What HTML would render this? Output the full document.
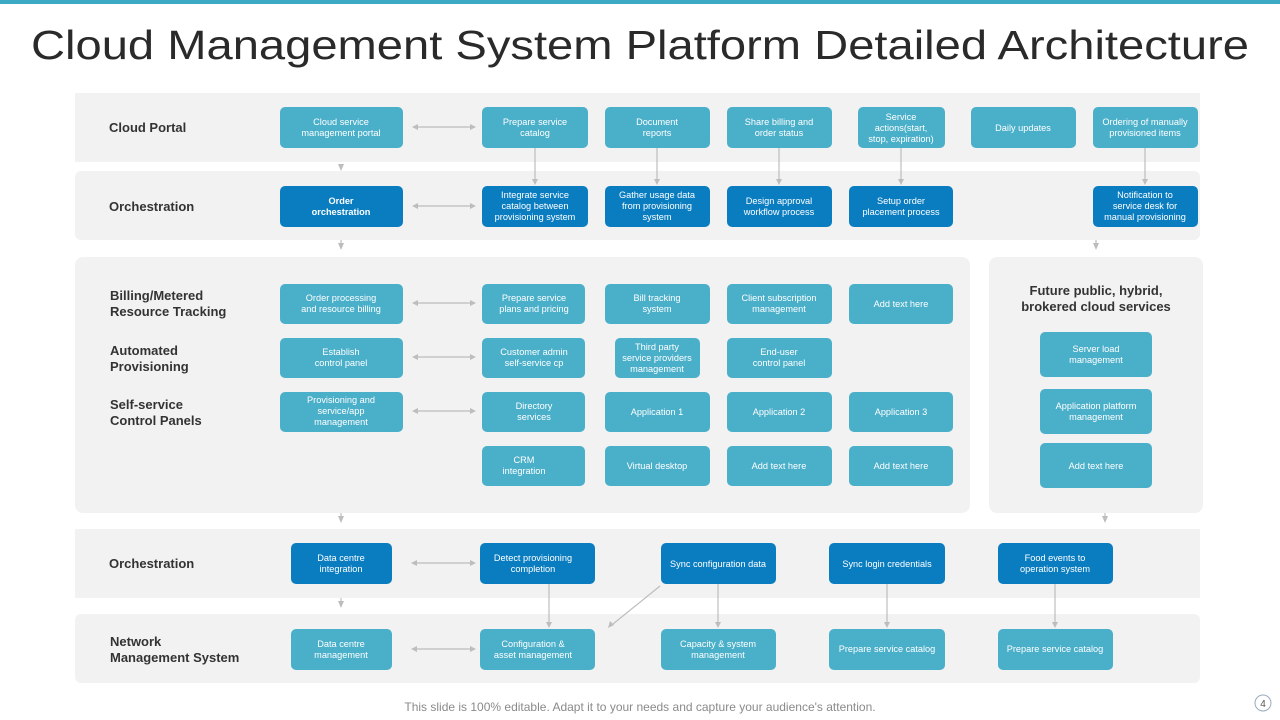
<!DOCTYPE html>
<html><head><meta charset="utf-8"><style>
html,body{margin:0;padding:0;background:#fff;}
svg{display:block;font-family:"Liberation Sans",Arial,sans-serif;}
.l{fill:#4aafc9}.d{fill:#0a7dc0}
.t{fill:#fff;font-size:9.2px;text-anchor:middle}
.lab{fill:#333;font-size:13px;font-weight:bold}
.ar{stroke:#bdbdbd;stroke-width:1.2;fill:none}
.ah{fill:#bdbdbd}
</style></head><body>
<svg width="1280" height="720" viewBox="0 0 1280 720" xmlns="http://www.w3.org/2000/svg">
<rect x="0" y="0" width="1280" height="4" fill="#3ea9c4"/>
<text x="640" y="59" text-anchor="middle" font-size="41" fill="#2a2a2a" textLength="1218" lengthAdjust="spacingAndGlyphs">Cloud Management System Platform Detailed Architecture</text>

<rect x="75" y="93" width="1125" height="69" fill="#f2f2f2"/>
<rect x="75" y="171" width="1125" height="69" rx="6" fill="#f2f2f2"/>
<rect x="75" y="257" width="895" height="256" rx="8" fill="#f2f2f2"/>
<rect x="989" y="257" width="214" height="256" rx="8" fill="#f2f2f2"/>
<rect x="75" y="529" width="1125" height="69" fill="#f2f2f2"/>
<rect x="75" y="614" width="1125" height="69" rx="6" fill="#f2f2f2"/>

<text class="lab" x="109" y="132">Cloud Portal</text>
<text class="lab" x="109" y="211">Orchestration</text>
<text class="lab" x="110" y="300">Billing/Metered</text><text class="lab" x="110" y="316">Resource Tracking</text>
<text class="lab" x="110" y="355">Automated</text><text class="lab" x="110" y="371">Provisioning</text>
<text class="lab" x="110" y="409">Self-service</text><text class="lab" x="110" y="425">Control Panels</text>
<text class="lab" x="109" y="568">Orchestration</text>
<text class="lab" x="110" y="646">Network</text><text class="lab" x="110" y="662">Management System</text>
<text class="lab" x="1096" y="295" text-anchor="middle">Future public, hybrid,</text>
<text class="lab" x="1096" y="311" text-anchor="middle">brokered cloud services</text>

<rect class="l" x="280" y="107" width="123" height="41" rx="5"/><text class="t" x="341" y="125">Cloud service</text><text class="t" x="341" y="136">management portal</text>
<rect class="l" x="482" y="107" width="106" height="41" rx="5"/><text class="t" x="535" y="125">Prepare service</text><text class="t" x="535" y="136">catalog</text>
<rect class="l" x="605" y="107" width="105" height="41" rx="5"/><text class="t" x="657" y="125">Document</text><text class="t" x="657" y="136">reports</text>
<rect class="l" x="727" y="107" width="105" height="41" rx="5"/><text class="t" x="779" y="125">Share billing and</text><text class="t" x="779" y="136">order status</text>
<rect class="l" x="858" y="107" width="87" height="41" rx="5"/><text class="t" x="901" y="120">Service</text><text class="t" x="901" y="131">actions(start,</text><text class="t" x="901" y="142">stop, expiration)</text>
<rect class="l" x="971" y="107" width="105" height="41" rx="5"/><text class="t" x="1023" y="131">Daily updates</text>
<rect class="l" x="1093" y="107" width="105" height="41" rx="5"/><text class="t" x="1145" y="125">Ordering of manually</text><text class="t" x="1145" y="136">provisioned items</text>

<rect class="d" x="280" y="186" width="123" height="41" rx="5"/><text class="t" x="341" y="204" font-weight="bold">Order</text><text class="t" x="341" y="215" font-weight="bold">orchestration</text>
<rect class="d" x="482" y="186" width="106" height="41" rx="5"/><text class="t" x="535" y="198">Integrate service</text><text class="t" x="535" y="209">catalog between</text><text class="t" x="535" y="220">provisioning system</text>
<rect class="d" x="605" y="186" width="105" height="41" rx="5"/><text class="t" x="657" y="198">Gather usage data</text><text class="t" x="657" y="209">from provisioning</text><text class="t" x="657" y="220">system</text>
<rect class="d" x="727" y="186" width="105" height="41" rx="5"/><text class="t" x="779" y="204">Design approval</text><text class="t" x="779" y="215">workflow process</text>
<rect class="d" x="849" y="186" width="104" height="41" rx="5"/><text class="t" x="901" y="204">Setup order</text><text class="t" x="901" y="215">placement process</text>
<rect class="d" x="1093" y="186" width="105" height="41" rx="5"/><text class="t" x="1145" y="198">Notification to</text><text class="t" x="1145" y="209">service desk for</text><text class="t" x="1145" y="220">manual provisioning</text>

<rect class="l" x="280" y="284" width="123" height="40" rx="5"/><text class="t" x="341" y="301">Order processing</text><text class="t" x="341" y="312">and resource billing</text>
<rect class="l" x="482" y="284" width="103" height="40" rx="5"/><text class="t" x="534" y="301">Prepare service</text><text class="t" x="534" y="312">plans and pricing</text>
<rect class="l" x="605" y="284" width="105" height="40" rx="5"/><text class="t" x="657" y="301">Bill tracking</text><text class="t" x="657" y="312">system</text>
<rect class="l" x="727" y="284" width="105" height="40" rx="5"/><text class="t" x="779" y="301">Client subscription</text><text class="t" x="779" y="312">management</text>
<rect class="l" x="849" y="284" width="104" height="40" rx="5"/><text class="t" x="901" y="307">Add text here</text>

<rect class="l" x="280" y="338" width="123" height="40" rx="5"/><text class="t" x="341" y="355">Establish</text><text class="t" x="341" y="366">control panel</text>
<rect class="l" x="482" y="338" width="103" height="40" rx="5"/><text class="t" x="534" y="355">Customer admin</text><text class="t" x="534" y="366">self-service cp</text>
<rect class="l" x="615" y="338" width="85" height="40" rx="5"/><text class="t" x="657" y="350">Third party</text><text class="t" x="657" y="361">service providers</text><text class="t" x="657" y="372">management</text>
<rect class="l" x="727" y="338" width="105" height="40" rx="5"/><text class="t" x="779" y="355">End-user</text><text class="t" x="779" y="366">control panel</text>

<rect class="l" x="280" y="392" width="123" height="40" rx="5"/><text class="t" x="341" y="403">Provisioning and</text><text class="t" x="341" y="414">service/app</text><text class="t" x="341" y="425">management</text>
<rect class="l" x="482" y="392" width="103" height="40" rx="5"/><text class="t" x="534" y="409">Directory</text><text class="t" x="534" y="420">services</text>
<rect class="l" x="605" y="392" width="105" height="40" rx="5"/><text class="t" x="657" y="415">Application 1</text>
<rect class="l" x="727" y="392" width="105" height="40" rx="5"/><text class="t" x="779" y="415">Application 2</text>
<rect class="l" x="849" y="392" width="104" height="40" rx="5"/><text class="t" x="901" y="415">Application 3</text>

<rect class="l" x="482" y="446" width="103" height="40" rx="5"/><text class="t" x="524" y="463">CRM</text><text class="t" x="524" y="474">integration</text>
<rect class="l" x="605" y="446" width="105" height="40" rx="5"/><text class="t" x="657" y="469">Virtual desktop</text>
<rect class="l" x="727" y="446" width="105" height="40" rx="5"/><text class="t" x="779" y="469">Add text here</text>
<rect class="l" x="849" y="446" width="104" height="40" rx="5"/><text class="t" x="901" y="469">Add text here</text>

<rect class="l" x="1040" y="332" width="112" height="45" rx="5"/><text class="t" x="1096" y="352">Server load</text><text class="t" x="1096" y="363">management</text>
<rect class="l" x="1040" y="389" width="112" height="45" rx="5"/><text class="t" x="1096" y="409">Application platform</text><text class="t" x="1096" y="420">management</text>
<rect class="l" x="1040" y="443" width="112" height="45" rx="5"/><text class="t" x="1096" y="469">Add text here</text>

<rect class="d" x="291" y="543" width="101" height="41" rx="5"/><text class="t" x="341" y="561">Data centre</text><text class="t" x="341" y="572">integration</text>
<rect class="d" x="480" y="543" width="115" height="41" rx="5"/><text class="t" x="533" y="561">Detect provisioning</text><text class="t" x="533" y="572">completion</text>
<rect class="d" x="661" y="543" width="115" height="41" rx="5"/><text class="t" x="718" y="567">Sync configuration data</text>
<rect class="d" x="829" y="543" width="116" height="41" rx="5"/><text class="t" x="887" y="567">Sync login credentials</text>
<rect class="d" x="998" y="543" width="115" height="41" rx="5"/><text class="t" x="1055" y="561">Food events to</text><text class="t" x="1055" y="572">operation system</text>

<rect class="l" x="291" y="629" width="101" height="41" rx="5"/><text class="t" x="341" y="647">Data centre</text><text class="t" x="341" y="658">management</text>
<rect class="l" x="480" y="629" width="115" height="41" rx="5"/><text class="t" x="533" y="647">Configuration &amp;</text><text class="t" x="533" y="658">asset management</text>
<rect class="l" x="661" y="629" width="115" height="41" rx="5"/><text class="t" x="718" y="647">Capacity &amp; system</text><text class="t" x="718" y="658">management</text>
<rect class="l" x="829" y="629" width="116" height="41" rx="5"/><text class="t" x="887" y="652">Prepare service catalog</text>
<rect class="l" x="998" y="629" width="115" height="41" rx="5"/><text class="t" x="1055" y="652">Prepare service catalog</text>

<g class="ar">
<line x1="416" y1="127" x2="472" y2="127"/><line x1="416" y1="206" x2="472" y2="206"/>
<line x1="416" y1="303" x2="472" y2="303"/><line x1="416" y1="357" x2="472" y2="357"/>
<line x1="416" y1="411" x2="472" y2="411"/>
<line x1="415" y1="563" x2="472" y2="563"/><line x1="415" y1="649" x2="472" y2="649"/>
<line x1="535" y1="148" x2="535" y2="180"/><line x1="657" y1="148" x2="657" y2="180"/>
<line x1="779" y1="148" x2="779" y2="180"/><line x1="901" y1="148" x2="901" y2="180"/>
<line x1="1145" y1="148" x2="1145" y2="180"/>
<line x1="549" y1="584" x2="549" y2="623"/><line x1="718" y1="584" x2="718" y2="623"/>
<line x1="887" y1="584" x2="887" y2="623"/><line x1="1055" y1="584" x2="1055" y2="623"/>
<line x1="660" y1="586" x2="613" y2="624"/>
</g>
<g class="ah">
<path d="M412 127l6-3v6z M476 127l-6-3v6z M412 206l6-3v6z M476 206l-6-3v6z M412 303l6-3v6z M476 303l-6-3v6z M412 357l6-3v6z M476 357l-6-3v6z M412 411l6-3v6z M476 411l-6-3v6z M411 563l6-3v6z M476 563l-6-3v6z M411 649l6-3v6z M476 649l-6-3v6z"/>
<path d="M532 179h6l-3 6z M654 179h6l-3 6z M776 179h6l-3 6z M898 179h6l-3 6z M1142 179h6l-3 6z M546 622h6l-3 6z M715 622h6l-3 6z M884 622h6l-3 6z M1052 622h6l-3 6z"/>
<path d="M608 628l2-7 4 4z"/>
<path d="M338 164h6l-3 7z M338 243h6l-3 7z M1093 243h6l-3 7z M338 516h6l-3 7z M1102 516h6l-3 7z M338 601h6l-3 7z"/>
</g>
<g class="ar"><line x1="341" y1="240" x2="341" y2="245"/><line x1="1096" y1="240" x2="1096" y2="245"/><line x1="341" y1="513" x2="341" y2="518"/><line x1="1105" y1="513" x2="1105" y2="518"/><line x1="341" y1="598" x2="341" y2="603"/></g>

<text x="640" y="711" text-anchor="middle" font-size="12" fill="#8a8a8a">This slide is 100% editable. Adapt it to your needs and capture your audience's attention.</text>
<circle cx="1263" cy="703" r="8" fill="none" stroke="#9ab" stroke-width="1"/>
<text x="1263" y="707" text-anchor="middle" font-size="10" fill="#555">4</text>
</svg>
</body></html>
